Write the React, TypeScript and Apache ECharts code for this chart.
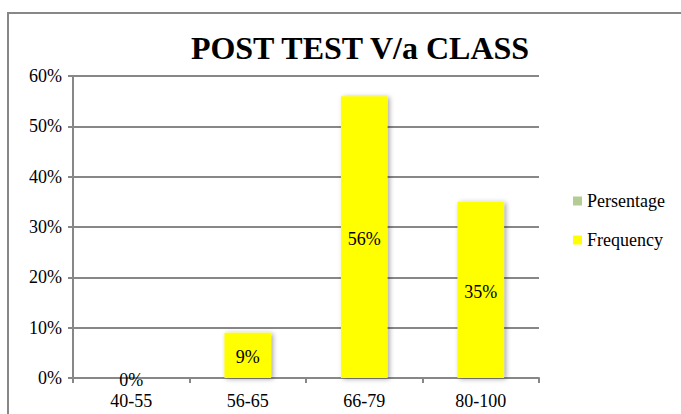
import React, { useEffect, useRef } from "react";
import * as echarts from "echarts";

const titleText = "POST TEST V/a CLASS";
const categories = ["40-55", "56-65", "66-79", "80-100"];
const persentageValues: (number | string)[] = ["-", "-", "-", "-"];
const frequencyValues = [0, 9, 56, 35];
const yTicks = [0, 10, 20, 30, 40, 50, 60];

const FONT = "Liberation Serif";
const GREY = "#878787";

export default function App() {
  const ref = useRef<HTMLDivElement>(null);
  useEffect(() => {
    if (!ref.current) return;
    const chart = echarts.init(ref.current, undefined, { renderer: "svg" });
    chart.setOption({
      animation: false,
      backgroundColor: "#ffffff",
      textStyle: { fontFamily: FONT, color: "#000" },
      title: {
        text: titleText,
        left: 355,
        textAlign: "center",
        top: 27,
        textStyle: { fontFamily: FONT, fontWeight: "bold", fontSize: 32, color: "#000" },
      },
      graphic: [
        {
          type: "rect",
          shape: { x: 8, y: 13, width: 720, height: 440 },
          style: { fill: "none", stroke: GREY, lineWidth: 2 },
          silent: true,
        },
      ],
      legend: {
        orient: "vertical",
        left: 568,
        top: 187,
        itemWidth: 9,
        itemHeight: 9,
        itemGap: 21,
        icon: "rect",
        data: ["Persentage", "Frequency"],
        textStyle: { fontFamily: FONT, fontSize: 18, color: "#000" },
      },
      grid: { left: 73, right: 142, top: 76, bottom: 36, containLabel: false },
      xAxis: {
        type: "category",
        data: categories,
        axisLine: { lineStyle: { color: GREY, width: 2 } },
        axisTick: { show: true, length: 5, lineStyle: { color: GREY, width: 2 } },
        axisLabel: { fontFamily: FONT, fontSize: 18, color: "#000", margin: 14 },
      },
      yAxis: {
        type: "value",
        min: yTicks[0],
        max: yTicks[yTicks.length - 1],
        interval: 10,
        axisLine: { show: true, lineStyle: { color: GREY, width: 2 } },
        axisTick: { show: true, length: 5, lineStyle: { color: GREY, width: 2 } },
        splitLine: { show: true, lineStyle: { color: GREY, width: 2 } },
        axisLabel: { fontFamily: FONT, fontSize: 18, color: "#000", margin: 11, formatter: "{value}%" },
      },
      series: [
        {
          name: "Persentage",
          type: "bar",
          data: persentageValues,
          itemStyle: { color: "#B3CC93" },
          barWidth: "40%",
          barGap: "-100%",
        },
        {
          name: "Frequency",
          type: "bar",
          data: frequencyValues,
          barWidth: "40%",
          itemStyle: {
            color: "#FFFF00",
            shadowColor: "rgba(0,0,0,0.35)",
            shadowBlur: 5,
            shadowOffsetX: 2,
            shadowOffsetY: 1,
          },
          label: {
            show: true,
            position: "inside",
            formatter: "{c}%",
            fontFamily: FONT,
            fontSize: 18,
            color: "#000",
            offset: [0, 2],
          },
        },
      ],
    });
    return () => chart.dispose();
  }, []);
  return (
    <div
      ref={ref}
      style={{ position: "fixed", left: 0, top: 0, width: 681, height: 414, background: "#fff" }}
    />
  );
}
